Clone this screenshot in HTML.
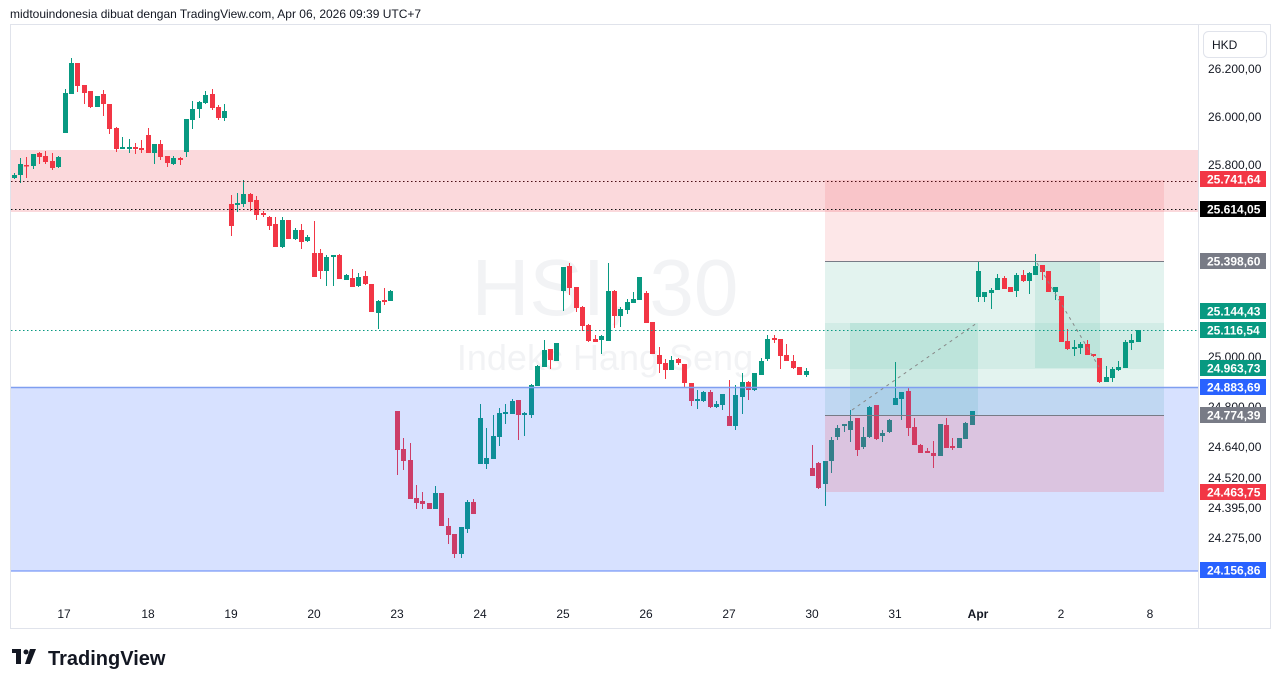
<!DOCTYPE html>
<html><head><meta charset="utf-8"><style>
html,body{margin:0;padding:0;background:#fff;width:1281px;height:688px;overflow:hidden;font-family:"Liberation Sans",sans-serif}
</style></head><body>
<svg id="s" width="1281" height="688" xmlns="http://www.w3.org/2000/svg" style="position:absolute;left:0;top:0;font-family:'Liberation Sans',sans-serif">
<text x="10" y="18" font-size="12" fill="#131722">midtouindonesia dibuat dengan TradingView.com, Apr 06, 2026 09:39 UTC+7</text>
<rect x="10.5" y="24.5" width="1260" height="604" fill="#fff" stroke="#e0e3eb"/>
<text x="605" y="315" font-size="80" fill="#f2f3f5" text-anchor="middle">HSI, 30</text>
<text x="605" y="370" font-size="36" fill="#f2f3f5" text-anchor="middle">Indeks Hang Seng</text>
<rect x="11" y="150" width="1187" height="62" fill="#fbd9dc"/>
<rect x="825" y="180" width="339" height="81" fill="rgba(242,54,69,0.12)"/>
<rect x="825" y="261" width="339" height="154" fill="#e3f3ef"/>
<rect x="825" y="323" width="339" height="46" fill="rgba(8,153,129,0.08)"/>
<rect x="850" y="323" width="128" height="92" fill="rgba(8,153,129,0.1)"/>
<rect x="1035" y="261" width="65" height="107" fill="rgba(8,153,129,0.1)"/>
<g id="c"></g>
<rect x="11" y="387" width="1187" height="184" fill="rgba(41,98,255,0.19)"/>
<rect x="825" y="415" width="339" height="77" fill="rgba(242,54,69,0.17)"/>
<line x1="825" y1="261.5" x2="1164" y2="261.5" stroke="#787b86"/>
<line x1="825" y1="415.5" x2="1164" y2="415.5" stroke="#787b86"/>
<line x1="11" y1="387.5" x2="1198" y2="387.5" stroke="#7f9ef0" stroke-width="1.5"/>
<line x1="11" y1="571" x2="1198" y2="571" stroke="#5b82f5"/>
<line x1="11" y1="181.5" x2="1198" y2="181.5" stroke="#4a0d14" stroke-dasharray="1.5,2.5"/>
<line x1="11" y1="209.5" x2="1198" y2="209.5" stroke="#111" stroke-dasharray="1.5,2.5"/>
<line x1="11" y1="330.5" x2="1198" y2="330.5" stroke="#089981" stroke-dasharray="1.5,2.5"/>
<line x1="852" y1="410" x2="977" y2="323" stroke="#888" stroke-dasharray="3,4"/>
<line x1="1037" y1="263" x2="1099" y2="367" stroke="#888" stroke-dasharray="3,4"/>
<line x1="1198.5" y1="25" x2="1198.5" y2="628" stroke="#e0e3eb"/>
<rect x="1203.5" y="31.5" width="63" height="26" rx="5" fill="#fff" stroke="#e0e3eb"/>
<text x="1212" y="49" font-size="12" fill="#131722">HKD</text>
<g font-size="12" fill="#131722">
<text x="1208" y="73">26.200,00</text><text x="1208" y="121">26.000,00</text><text x="1208" y="169">25.800,00</text>
<text x="1208" y="315">25.200,00</text><text x="1208" y="361">25.000,00</text><text x="1208" y="411">24.800,00</text>
<text x="1208" y="451">24.640,00</text><text x="1208" y="482">24.520,00</text><text x="1208" y="512">24.395,00</text><text x="1208" y="542">24.275,00</text>
</g>
<g id="lb" font-size="12" font-weight="bold" fill="#fff"></g>
<g font-size="12" fill="#131722" text-anchor="middle">
<text x="64" y="618">17</text><text x="148" y="618">18</text><text x="231" y="618">19</text><text x="314" y="618">20</text><text x="397" y="618">23</text><text x="480" y="618">24</text><text x="563" y="618">25</text><text x="646" y="618">26</text><text x="729" y="618">27</text><text x="812" y="618">30</text><text x="895" y="618">31</text><text x="978" y="618" font-weight="bold">Apr</text><text x="1061" y="618">2</text><text x="1150" y="618">8</text>
</g>
<g transform="translate(12,649)" fill="#131722"><rect x="0" y="0" width="9" height="4"/><rect x="4" y="0" width="5" height="15"/><circle cx="14" cy="3" r="2.5"/><path d="M18 0h6l-6 15h-5z"/></g>
<text x="48" y="665" font-size="20" font-weight="bold" fill="#131722">TradingView</text>
</svg>
<script>
var G='#089981',R='#f23645';
// x, bodyTop, bodyBot, wickTop, wickBot, color
var d=[
[14,175,178,173,179,G],[20,164,175,158,183,G],[26,165,166,157,178,R],[33,154,166,154,169,G],[39,153,157,152,164,R],[45,156,162,151,164,R],[52,161,168,153,170,R],[58,157,167,156,168,G],
[65,93,133,89,133,G],[71,63,94,58,94,G],[77,63,86,63,92,R],[84,85,93,85,104,R],[90,91,107,91,108,R],[97,96,107,96,107,G],[103,94,104,90,116,R],[109,104,129,104,134,R],[116,128,149,127,152,R],[122,147,149,137,149,G],[129,147,149,139,153,G],[135,147,149,143,154,R],[141,148,150,140,153,R],[148,135,153,128,153,R],[154,144,153,144,164,G],[160,144,157,140,160,R],[167,156,163,156,167,R],[173,158,164,156,165,G],[180,158,160,157,165,R],[186,119,152,119,157,G],[192,109,120,101,129,G],[199,102,109,101,118,G],[205,95,103,91,104,G],[212,94,108,89,110,R],[218,107,118,105,120,R],[224,111,118,104,121,G],
[231,204,226,195,236,R],[237,203,205,193,212,G],[243,194,204,180,207,G],[250,194,202,193,211,R],[256,200,215,196,220,R],[263,213,215,211,217,R],[269,217,226,216,230,R],[275,224,247,217,247,R],[282,220,247,217,248,G],[288,220,239,220,239,R],[295,230,239,228,240,G],[301,230,242,224,249,R],[307,237,241,235,242,G],[314,253,277,221,277,R],[320,253,271,249,279,R],[326,257,271,255,286,G],[333,255,257,255,286,G],[339,255,279,254,279,R],[346,275,280,274,280,G],[352,278,287,269,287,R],[358,277,286,273,287,G],[365,276,284,271,285,R],[371,284,312,284,312,R],[378,301,313,300,329,G],[384,300,302,288,305,R],[390,291,301,290,301,G],
[397,411,450,411,475,R],[403,449,461,438,470,R],[410,460,499,443,499,R],[416,498,503,485,509,R],[422,501,504,492,509,R],[429,503,509,503,509,R],[435,493,509,486,509,G],[441,493,526,493,526,R],[448,526,535,518,544,R],[454,534,554,534,558,R],[461,527,554,527,558,G],[467,502,529,500,533,G],[473,502,514,499,514,R],[480,418,464,404,464,G],[486,458,464,428,469,G],[493,436,459,415,459,G],[499,413,437,408,446,G],[505,412,414,404,424,G],[512,401,414,399,414,G],[518,400,415,400,440,R],[524,413,415,412,436,G],[531,385,415,384,418,G],[537,366,386,365,386,G],[544,350,367,340,367,G],[550,349,360,349,369,R],[556,343,361,343,361,G],[563,267,291,267,311,G],[569,266,288,263,295,R],[576,287,308,287,312,R],[582,307,326,306,331,R],[588,325,341,324,342,R],[595,339,342,335,342,R],[601,336,340,335,354,G],[608,291,341,263,341,G],[614,291,316,290,328,R],[620,309,316,307,327,G],[627,302,310,299,314,G],[633,299,303,292,303,G],[639,277,300,277,300,G],[646,293,323,291,323,R],[652,322,354,322,354,R],[659,355,364,347,373,R],[665,363,370,359,379,R],[671,360,370,356,370,G],[678,359,363,358,365,R],[684,364,383,364,387,R],[691,383,401,383,406,R],[697,399,401,390,409,G],[703,392,401,391,402,G],[710,392,407,390,408,R],[716,404,407,401,408,G],[722,394,405,394,410,G],[729,416,426,380,426,R],[735,395,426,385,430,G],[742,382,397,373,414,G],[748,382,390,381,400,R],[754,373,390,373,391,G],[761,361,375,358,375,G],[767,339,359,335,361,G],[774,338,340,335,343,R],[780,339,356,339,369,R],[786,355,361,344,361,R],[793,361,368,355,369,R],[799,367,375,367,375,R],[806,371,375,368,377,G],
[812,468,476,445,476,R],[818,463,488,462,489,R],[825,461,484,461,506,G],[831,440,461,437,473,G],[837,428,437,425,440,G],[844,424,426,424,432,G],[850,421,430,410,442,G],[857,418,450,418,456,R],[863,437,447,427,449,G],[869,407,437,406,438,G],[876,405,439,405,440,R],[882,433,436,430,442,G],[889,420,432,419,433,G],[895,398,405,362,405,G],[901,392,399,392,420,G],[908,391,428,387,436,R],[914,427,445,418,445,R],[920,445,453,444,453,R],[927,451,453,448,453,R],[933,453,456,441,468,R],[940,424,456,424,456,G],[946,425,448,418,448,R],[952,446,448,438,450,R],[959,438,448,438,448,G],[965,423,439,422,439,G],[972,411,425,411,425,G],
[978,271,297,262,302,G],[984,292,297,292,302,G],[991,290,293,288,309,G],[997,278,290,274,290,G],[1004,278,289,276,289,R],[1010,287,292,287,292,R],[1016,275,291,273,297,G],[1023,275,281,270,282,R],[1029,273,281,272,294,G],[1035,266,275,254,275,G],[1042,265,272,265,280,R],[1048,271,292,271,292,R],[1055,287,292,287,300,G],[1061,296,342,296,342,R],[1067,341,349,329,350,R],[1074,347,349,340,356,G],[1080,344,348,342,354,G],[1087,344,355,340,355,R],[1093,354,356,354,357,R],[1099,358,382,358,383,R],[1106,377,382,366,382,G],[1112,369,378,367,382,G],[1118,367,370,361,371,G],[1125,342,368,340,368,G],[1131,340,343,334,350,G],[1138,330,342,330,342,G]];
var h='';d.forEach(function(c){h+='<line x1="'+(c[0]+.5)+'" y1="'+c[3]+'" x2="'+(c[0]+.5)+'" y2="'+c[4]+'" stroke="'+c[5]+'"/>';h+='<rect x="'+(c[0]-2)+'" y="'+c[1]+'" width="5" height="'+Math.max(1.5,c[2]-c[1])+'" fill="'+c[5]+'"/>';});
document.getElementById('c').innerHTML=h;
var L=[[179,'#f23645','25.741,64'],[209,'#000','25.614,05'],[261,'#787b86','25.398,60'],[311,'#089981','25.144,43'],[330,'#089981','25.116,54'],[368,'#089981','24.963,73'],[387,'#2962ff','24.883,69'],[415,'#787b86','24.774,39'],[492,'#f23645','24.463,75'],[570,'#2962ff','24.156,86']];
var t='';L.forEach(function(l){t+='<rect x="1200" y="'+(l[0]-8)+'" width="66" height="16" fill="'+l[1]+'"/><text x="1207" y="'+(l[0]+4.5)+'">'+l[2]+'</text>';});
document.getElementById('lb').innerHTML=t;
</script>
</body></html>
